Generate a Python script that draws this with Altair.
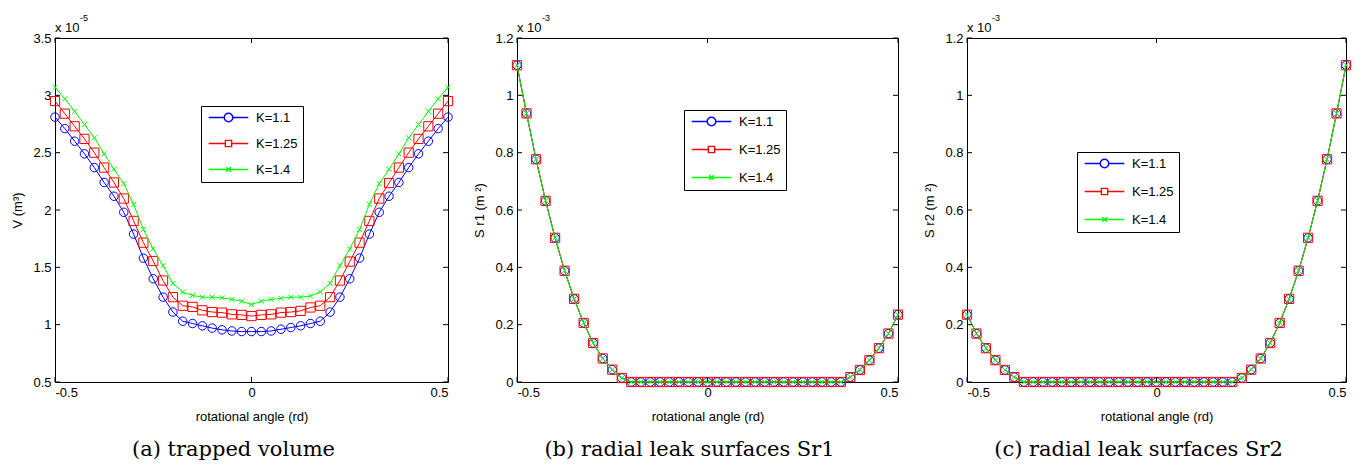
import altair as alt
import pandas as pd

# ---------------- data ----------------
angles = [-0.5, -0.475, -0.45, -0.425, -0.4, -0.375, -0.35, -0.325, -0.3, -0.275,
          -0.25, -0.225, -0.2, -0.175, -0.15, -0.125, -0.1, -0.075, -0.05, -0.025,
          0.0, 0.025, 0.05, 0.075, 0.1, 0.125, 0.15, 0.175, 0.2, 0.225,
          0.25, 0.275, 0.3, 0.325, 0.35, 0.375, 0.4, 0.425, 0.45, 0.475, 0.5]

# trapped volume (x 1e-5 m^3)
v_k11 = [2.81, 2.71, 2.60, 2.49, 2.37, 2.24, 2.12, 1.98, 1.79, 1.58,
         1.40, 1.24, 1.11, 1.03, 1.01, 0.99, 0.97, 0.955, 0.945, 0.94,
         0.94, 0.94, 0.945, 0.96, 0.975, 0.99, 1.01, 1.03, 1.11, 1.24,
         1.40, 1.58, 1.79, 1.98, 2.12, 2.24, 2.37, 2.49, 2.60, 2.71, 2.81]
v_k125 = [2.95, 2.84, 2.73, 2.62, 2.50, 2.37, 2.24, 2.10, 1.905, 1.715,
          1.555, 1.385, 1.24, 1.165, 1.155, 1.125, 1.11, 1.105, 1.09, 1.085,
          1.075, 1.085, 1.09, 1.105, 1.11, 1.12, 1.15, 1.165, 1.24, 1.385,
          1.55, 1.715, 1.905, 2.10, 2.235, 2.37, 2.50, 2.62, 2.73, 2.84, 2.95]
v_k14 = [3.07, 2.97, 2.86, 2.745, 2.63, 2.49, 2.355, 2.23, 2.05, 1.83,
         1.66, 1.515, 1.36, 1.285, 1.255, 1.24, 1.24, 1.235, 1.22, 1.205,
         1.175, 1.205, 1.22, 1.23, 1.24, 1.24, 1.25, 1.285, 1.36, 1.515,
         1.66, 1.83, 2.05, 2.23, 2.355, 2.49, 2.63, 2.745, 2.86, 2.97, 3.07]

# radial leak surface Sr1 (x 1e-3 m^2), identical for the three K values
sr1 = [1.105, 0.937, 0.777, 0.632, 0.503, 0.388, 0.29, 0.206, 0.136, 0.082,
       0.043, 0.014, 0.0, 0.0, 0.0, 0.0, 0.0, 0.0, 0.0, 0.0,
       0.0, 0.0, 0.0, 0.0, 0.0, 0.0, 0.0, 0.0, 0.0, 0.0,
       0.0, 0.0, 0.0, 0.0, 0.0, 0.017, 0.042, 0.076, 0.118, 0.169, 0.235]
# radial leak surface Sr2 (x 1e-3 m^2)
sr2 = [0.235, 0.169, 0.118, 0.076, 0.042, 0.017, 0.0, 0.0, 0.0, 0.0,
       0.0, 0.0, 0.0, 0.0, 0.0, 0.0, 0.0, 0.0, 0.0, 0.0,
       0.0, 0.0, 0.0, 0.0, 0.0, 0.0, 0.0, 0.0, 0.0, 0.014,
       0.043, 0.082, 0.136, 0.206, 0.29, 0.388, 0.503, 0.632, 0.777, 0.937, 1.105]

series_labels = ["K=1.1", "K=1.25", "K=1.4"]
series_colors = ["#0000ff", "#ff0000", "#00ff00"]
x_ticks = [-0.5, 0, 0.5]
v_ticks = [0.5, 1, 1.5, 2, 2.5, 3, 3.5]
s_ticks = [0, 0.2, 0.4, 0.6, 0.8, 1, 1.2]

# ---------------- style ----------------
FONT = "Liberation Sans"
NARROW = "'Liberation Sans Narrow', 'Liberation Sans', sans-serif"
SERIF = "DejaVu Serif"
marker_shapes = ["circle", "square", "M-1,-1L1,1M-1,1L1,-1"]
marker_sizes = [72, 85, 25]
legend_paths = [
    "M-4.4,0L-0.95,0M0.95,0L4.4,0M0.95,0A0.95,0.95,0,1,1,-0.95,0A0.95,0.95,0,1,1,0.95,0",
    "M-4.4,0L-0.7,0M0.7,0L4.4,0M-0.7,-0.7L0.7,-0.7L0.7,0.7L-0.7,0.7Z",
    "M-4.4,0L4.4,0M-0.5,-0.5L0.5,0.5M-0.5,0.5L0.5,-0.5",
]


def make_panel(series_values, yticks, ydomain, ytitle, exp, caption, W, H, lx, ly, rowpad):
    rows = []
    for lab, vals in zip(series_labels, series_values):
        for a, v in zip(angles, vals):
            rows.append({"angle": a, "value": v, "K": lab})
    df = pd.DataFrame(rows)

    xenc = alt.X("angle:Q",
                 scale=alt.Scale(domain=[-0.5, 0.5], nice=False, zero=False),
                 axis=alt.Axis(values=x_ticks, title="rotational angle (rd)",
                               labelExpr="datum.value < 0 ? '-' + format(-datum.value, '~g') : format(datum.value, '~g')",
                               titlePadding=11))
    yenc = alt.Y("value:Q",
                 scale=alt.Scale(domain=ydomain, nice=False, zero=False),
                 axis=alt.Axis(values=yticks, title=ytitle,
                               labelExpr="format(datum.value, '~g')",
                               titlePadding=8))

    base = alt.Chart(df)
    layers = []
    for lab, col, shp, sz in zip(series_labels, series_colors, marker_shapes, marker_sizes):
        sub = base.transform_filter(alt.datum.K == lab)
        layers.append(sub.mark_line(color=col, strokeWidth=1).encode(x=xenc, y=yenc))
        layers.append(sub.mark_point(color=col, shape=shp, size=sz, filled=False,
                                     strokeWidth=1, opacity=1).encode(x=xenc, y=yenc))

    leg = alt.Legend(title=None, orient="none", legendX=lx, legendY=ly,
                     strokeColor="black", fillColor="white", padding=5,
                     labelFont=FONT, labelFontSize=13, labelColor="black",
                     symbolSize=81, symbolStrokeWidth=1.4, symbolOffset=16,
                     labelOffset=21, rowPadding=rowpad)
    legend_layer = base.mark_point(filled=False, opacity=1, strokeWidth=1.4).encode(
        x=xenc, y=yenc,
        color=alt.Color("K:N", scale=alt.Scale(domain=series_labels, range=series_colors), legend=leg),
        shape=alt.Shape("K:N", scale=alt.Scale(domain=series_labels, range=legend_paths), legend=leg),
    ).transform_filter("false")
    layers.append(legend_layer)

    xt = alt.Chart(pd.DataFrame({"angle": x_ticks}))
    yt = alt.Chart(pd.DataFrame({"value": yticks}))
    layers.append(xt.mark_rule(color="black", strokeWidth=1).encode(x=xenc, y=alt.value(H), y2=alt.value(H - 5)))
    layers.append(xt.mark_rule(color="black", strokeWidth=1).encode(x=xenc, y=alt.value(0), y2=alt.value(5)))
    layers.append(yt.mark_rule(color="black", strokeWidth=1).encode(y=yenc, x=alt.value(0), x2=alt.value(5)))
    layers.append(yt.mark_rule(color="black", strokeWidth=1).encode(y=yenc, x=alt.value(W), x2=alt.value(W - 5)))

    layers.append(alt.Chart(pd.DataFrame({"t": ["x 10"]})).mark_text(
        align="left", baseline="alphabetic", font=NARROW, fontSize=13, color="black"
    ).encode(text="t:N", x=alt.value(0), y=alt.value(-6)))
    layers.append(alt.Chart(pd.DataFrame({"t": [exp]})).mark_text(
        align="left", baseline="alphabetic", font=NARROW, fontSize=9, color="black"
    ).encode(text="t:N", x=alt.value(25), y=alt.value(-17)))

    return alt.layer(*layers).properties(
        width=W, height=H,
        title=alt.TitleParams(text=caption, orient="bottom", anchor="middle", frame="group",
                              dx=-18, offset=16, font=SERIF, fontSize=21,
                              fontWeight="normal", color="black"),
    )


pa = make_panel([v_k11, v_k125, v_k14], v_ticks, [0.5, 3.5], "V (m\u00b3)", "-5",
                "(a) trapped volume", 393, 344, 146, 68, 12)
pb = make_panel([sr1, sr1, sr1], s_ticks, [0, 1.2], "S r1 (m \u00b2)", "-3",
                "(b) radial leak surfaces Sr1", 381, 344, 167, 72, 14)
pc = make_panel([sr2, sr2, sr2], s_ticks, [0, 1.2], "S r2 (m \u00b2)", "-3",
                "(c) radial leak surfaces Sr2", 379, 344, 110, 114, 14)

chart = alt.hconcat(pa, pb, pc, spacing=17).resolve_scale(
    x="independent", y="independent", color="independent", shape="independent"
).resolve_legend(color="independent", shape="independent").properties(
    padding={"left": 3, "top": 5, "right": 3, "bottom": 0}
).configure_view(stroke="black", strokeWidth=1).configure_axis(
    labelFont=FONT, labelFontSize=13, labelColor="black",
    titleFont=FONT, titleFontSize=13, titleFontWeight="normal", titleColor="black",
    ticks=False, domain=False, grid=False, labelPadding=4,
)

chart.save("out.html", embed_options={"renderer": "svg", "actions": False})
